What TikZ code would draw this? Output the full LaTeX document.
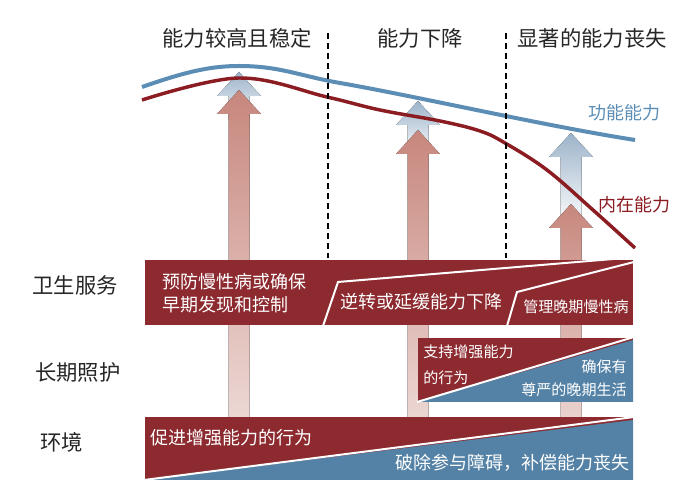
\documentclass[tikz,border=0pt]{standalone}
\usepackage{fontspec}
\setmainfont{Noto Sans CJK SC}
\definecolor{boxred}{HTML}{8C2A2F}
\definecolor{boxblue}{HTML}{5482A6}
\definecolor{curveblue}{HTML}{5B8DB5}
\definecolor{curvered}{HTML}{8A1C22}
\definecolor{liftred}{HTML}{C7877D}
\definecolor{liftblue}{HTML}{9CB3CA}
\newcommand{\liftarrow}[4]{%
  \fill[#4] (#1-10.5,#3) -- (#1-10.5,#2+24) -- (#1-22,#2+24) -- (#1,#2) -- (#1+22,#2+24) -- (#1+10.5,#2+24) -- (#1+10.5,#3) -- cycle;}
\begin{document}
\begin{tikzpicture}[x=0.75pt, y=-0.75pt,
  title/.style={font=\fontsize{16}{19}\selectfont, inner sep=0pt, text=black!85},
  rowlabel/.style={font=\fontsize{16}{19}\selectfont, inner sep=0pt, text=black!85},
  boxtext/.style={text=white, inner sep=0pt, font=\fontsize{13.5}{17.25}\selectfont},
  smalltext/.style={text=white, inner sep=0pt, font=\fontsize{11.3}{17.25}\selectfont},
  curvelabel/.style={inner sep=0pt, font=\fontsize{13.5}{16}\selectfont},
  phase/.style={line width=1.1pt, dash pattern=on 4.5pt off 3pt},
  sep/.style={white, line width=1.5pt},
  bluelift/.style={top color=liftblue, bottom color=liftblue!12},
  redlift/.style={top color=liftred, bottom color=liftred!22}
]
\useasboundingbox (0,0) rectangle (700,498);
% arrows
\liftarrow{239}{72}{120}{bluelift}
\liftarrow{239}{90}{470}{redlift}
\liftarrow{418}{101}{150}{bluelift}
\liftarrow{418}{130}{470}{redlift}
\liftarrow{571}{133}{215}{bluelift}
\liftarrow{571}{204}{470}{redlift}
% health services
\fill[boxred] (145,260) rectangle (633,325);
\draw[sep] (323,326) -- (338,282) -- (613,259);
\draw[sep] (507,326) -- (517,292) -- (634,262);
% long-term care
\fill[boxred] (418,338) rectangle (633,402);
\fill[boxblue] (418,402) -- (633,340) -- (633,402) -- cycle;
\draw[sep] (417,402) -- (634,337);
% environment
\fill[boxred] (145,417) rectangle (633,480);
\fill[boxblue] (145,480) -- (633,420) -- (633,480) -- cycle;
\draw[sep] (144,480) -- (634,417);
% curves
\draw[curveblue, line width=3pt] (142,87) .. controls (185,72) and (210,66) .. (239,66)
  .. controls (280,66) and (300,76) .. (340,83) .. controls (420,97) and (540,125) .. (635,140);
\draw[curvered, line width=2.6pt] plot[smooth, tension=0.6] coordinates {(142,100) (239,78) (327,97) (380,110) (440,121) (480,131) (505,143) (547,170) (593,210) (635,248)};
\draw[phase] (328,33) -- (328,258);
\draw[phase] (506,33) -- (506,258);
% texts
\node[title] (t1) at (237,38) {能力较高且稳定};
\node[title] (t2) at (420,38) {能力下降};
\node[title] (t3) at (592,38) {显著的能力丧失};
\node[curvelabel, text=curveblue] (fa) at (624,113) {功能能力};
\node[curvelabel, text=curvered] (ic) at (634,205) {内在能力};
\node[rowlabel] (hs) at (75,285) {卫生服务};
\node[rowlabel] (lc) at (78,372) {长期照护};
\node[rowlabel] (en) at (62,442) {环境};
\node[boxtext, align=left, anchor=west] (hs1) at (162,293.5) {预防慢性病或确保\\早期发现和控制};
\node[boxtext] (hs2) at (421,302) {逆转或延缓能力下降};
\node[smalltext] (hs3) at (576,307) {管理晚期慢性病};
\node[smalltext, align=left, anchor=west, font=\fontsize{11.3}{19.5}\selectfont] (lc1) at (423,365) {支持增强能力\\的行为};
\node[smalltext, align=right, anchor=east] (lc2) at (627,378.5) {确保有\\尊严的晚期生活};
\node[boxtext, anchor=west] (en1) at (150,438) {促进增强能力的行为};
\node[boxtext, anchor=east] (en2) at (630,463) {破除参与障碍，补偿能力丧失};
\end{tikzpicture}
\end{document}
